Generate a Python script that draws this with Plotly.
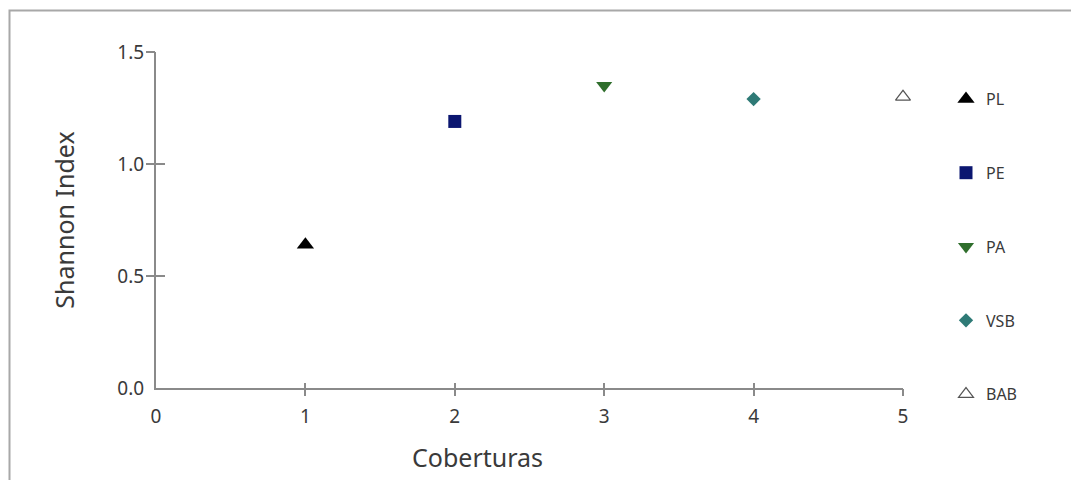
import plotly.graph_objects as go

# Shannon diversity index per land cover
coberturas = [1, 2, 3, 4, 5]
shannon = [0.64, 1.19, 1.35, 1.29, 1.30]
nomes = ["PL", "PE", "PA", "VSB", "BAB"]

x_ticks = [0, 1, 2, 3, 4, 5]
x_ticktext = ["0", "1", "2", "3", "4", "5"]
y_ticks = [0.0, 0.5, 1.0, 1.5]
y_ticktext = ["0.0", "0.5", "1.0", "1.5"]

simbolos = ["triangle-up", "square", "triangle-down", "diamond", "triangle-up-open"]
cores = ["#000000", "#0b1670", "#2f6e2c", "#2e7a76", "#555555"]
tamanhos = [15, 13, 14, 11, 13]

W, H = 1071, 480
ML, MR, MT, MB = 156, W - 903, 52, H - 388
PW, PH = W - ML - MR, H - MT - MB

def px_x(p):
    return (p - ML) / PW

def px_y(p):
    return (H - MB - p) / PH

AXC = "#8a8a8a"
TXT = "#3a3a3a"
FONT = "Noto Sans"

fig = go.Figure()
for i in range(len(nomes)):
    fig.add_trace(go.Scatter(
        x=[coberturas[i]], y=[shannon[i]], mode="markers", name=nomes[i],
        legendgroup=nomes[i],
        marker=dict(symbol=simbolos[i], size=tamanhos[i], color=cores[i],
                    line=dict(width=1.2 if "open" in simbolos[i] else 0, color=cores[i])),
        cliponaxis=False,
    ))

base_x = dict(range=[0, 5], showgrid=False, zeroline=False, fixedrange=True)
base_y = dict(range=[0, 1.5], showgrid=False, zeroline=False, fixedrange=True)

fig.update_layout(
    width=W, height=H,
    margin=dict(l=ML, r=MR, t=MT, b=MB),
    paper_bgcolor="white", plot_bgcolor="white",
    font=dict(family=FONT, color=TXT),
    xaxis=dict(**base_x, tickmode="array", tickvals=x_ticks, ticktext=x_ticktext,
               ticks="", showline=True, linecolor=AXC, linewidth=2,
               ticklabelstandoff=10,
               tickfont=dict(size=19, color=TXT)),
    yaxis=dict(**base_y, tickmode="array", tickvals=y_ticks, ticktext=y_ticktext,
               ticks="", showline=True, linecolor=AXC, linewidth=2,
               ticklabelstandoff=6,
               tickfont=dict(size=19, color=TXT),
               title=dict(text="Shannon Index", font=dict(size=25, color=TXT), standoff=36)),
    # tick marks that cross the axis lines
    xaxis2=dict(**base_x, overlaying="x", anchor="y", side="bottom", tickmode="array",
                tickvals=coberturas, ticks="outside", ticklen=7, tickwidth=1.5,
                tickcolor=AXC, showticklabels=False, showline=False),
    xaxis3=dict(**base_x, overlaying="x", anchor="y", side="bottom", tickmode="array",
                tickvals=coberturas, ticks="inside", ticklen=5, tickwidth=1.5,
                tickcolor=AXC, showticklabels=False, showline=False),
    yaxis2=dict(**base_y, overlaying="y", anchor="x", side="left", tickmode="array",
                tickvals=y_ticks[1:], ticks="outside", ticklen=9, tickwidth=1.5,
                tickcolor=AXC, showticklabels=False, showline=False),
    yaxis3=dict(**base_y, overlaying="y", anchor="x", side="left", tickmode="array",
                tickvals=y_ticks[1:], ticks="inside", ticklen=9, tickwidth=1.5,
                tickcolor=AXC, showticklabels=False, showline=False),
    legend=dict(x=px_x(946), xanchor="left", y=px_y(82), yanchor="top",
                font=dict(size=16, color=TXT), tracegroupgap=50,
                itemwidth=30, bgcolor="rgba(0,0,0,0)", traceorder="grouped"),
    showlegend=True,
)

# empty traces bound to the overlay axes so they are drawn
for ax in ["2", "3"]:
    fig.add_trace(go.Scatter(x=[], y=[], xaxis="x" + ax, yaxis="y" + ax,
                             showlegend=False, hoverinfo="skip"))

fig.add_annotation(text="Coberturas", xref="paper", yref="paper",
                   x=px_x(477), y=px_y(457), xanchor="center", yanchor="middle",
                   showarrow=False, font=dict(size=25, color=TXT))

# outer frame
fig.add_shape(type="rect", xref="paper", yref="paper",
              x0=px_x(9.5), x1=px_x(1080), y0=px_y(490), y1=px_y(10.5),
              line=dict(color="#a8a8a8", width=2), layer="below")

fig.write_html("out.html")
